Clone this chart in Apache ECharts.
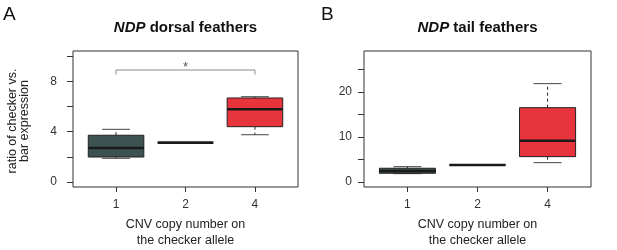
<!DOCTYPE html>
<html>
<head>
<meta charset="utf-8">
<script src="https://cdn.jsdelivr.net/npm/echarts@6/dist/echarts.min.js"></script>
<style>html,body{margin:0;padding:0;background:#fff;}#c{width:617px;height:250px;}</style>
</head>
<body>
<div id="c"></div>
<script>
// ---- data ----
const categories = ['1', '2', '4'];
// [min, q1, median, q3, max] per CNV group
const dorsalStats = [
  [1.88, 1.98, 2.70, 3.71, 4.18],
  [3.12, 3.12, 3.12, 3.12, 3.12],
  [3.75, 4.39, 5.77, 6.67, 6.77]
];
const tailStats = [
  [1.85, 1.93, 2.45, 3.05, 3.40],
  [3.78, 3.78, 3.78, 3.78, 3.78],
  [4.29, 5.63, 9.18, 16.52, 21.86]
];
const dorsalTicks = [0, 2, 4, 6, 8, 10];
const dorsalLabels = [0, 4, 8];
const tailTicks = [0, 5, 10, 15, 20, 25];
const tailLabels = [0, 10, 20];
const sigPair = [1, 3];      // group positions compared
const sigLevel = [8.89];     // bracket height (dorsal)
const sigText = ['*'];

// ---- styles ----
const fills = ['#3c5351', '#3c5351', '#e8353d'];
const FONT = 'Liberation Sans, Arial, sans-serif';

const chart = echarts.init(document.getElementById('c'), null, {renderer: 'canvas'});

function toData(stats) {
  return stats.map((s, i) => [i + 1].concat(s));
}

function boxRender(params, api) {
  const x = api.value(0);
  const lo = api.coord([x, api.value(1)]);
  const q1 = api.coord([x, api.value(2)]);
  const md = api.coord([x, api.value(3)]);
  const q3 = api.coord([x, api.value(4)]);
  const hi = api.coord([x, api.value(5)]);
  const bw = api.size([0.8, 0])[0];
  const cw = bw / 2;
  const cx = lo[0];
  const stroke = '#222';
  const kids = [];
  kids.push({type: 'line', shape: {x1: cx, y1: q3[1], x2: cx, y2: hi[1]}, style: {stroke: stroke, lineWidth: 1, lineDash: [3, 3]}});
  kids.push({type: 'line', shape: {x1: cx, y1: q1[1], x2: cx, y2: lo[1]}, style: {stroke: stroke, lineWidth: 1, lineDash: [3, 3]}});
  kids.push({type: 'line', shape: {x1: cx - cw / 2, y1: hi[1], x2: cx + cw / 2, y2: hi[1]}, style: {stroke: '#444', lineWidth: 1}});
  kids.push({type: 'line', shape: {x1: cx - cw / 2, y1: lo[1], x2: cx + cw / 2, y2: lo[1]}, style: {stroke: '#444', lineWidth: 1}});
  kids.push({type: 'rect', shape: {x: cx - bw / 2, y: q3[1], width: bw, height: q1[1] - q3[1]},
             style: {fill: fills[params.dataIndex], stroke: stroke, lineWidth: 1}});
  kids.push({type: 'line', shape: {x1: cx - bw / 2, y1: md[1], x2: cx + bw / 2, y2: md[1]}, style: {stroke: '#1a1a1a', lineWidth: 2.6}});
  return {type: 'group', children: kids};
}

function sigRender(params, api) {
  const a = api.coord([api.value(0), api.value(2)]);
  const b = api.coord([api.value(1), api.value(2)]);
  const d = 4.5;
  return {type: 'group', children: [
    {type: 'polyline', shape: {points: [[a[0], a[1] + d], [a[0], a[1]], [b[0], b[1]], [b[0], b[1] + d]]},
     style: {stroke: '#8a8a8a', lineWidth: 1, fill: null}},
    {type: 'text', x: (a[0] + b[0]) / 2, y: a[1] - 9.5,
     style: {text: sigText[params.dataIndex], font: '13px ' + FONT, fill: '#555', align: 'center', verticalAlign: 'top'}}
  ]};
}

function xAxisFor(gi) {
  return {
    type: 'value', gridIndex: gi, min: 0.38, max: 3.62,
    axisLine: {show: false, onZero: false},
    splitLine: {show: false},
    axisTick: {show: true, customValues: [1, 2, 3], length: 5, lineStyle: {color: '#333'}},
    axisLabel: {show: true, customValues: [1, 2, 3], margin: 12, color: '#333', fontSize: 12, fontFamily: FONT,
                formatter: v => categories[Math.round(v) - 1]},
    name: 'CNV copy number on\nthe checker allele',
    nameLocation: 'middle', nameGap: 45.5, nameMoveOverlap: false,
    nameTextStyle: {fontSize: 12.5, fontFamily: FONT, color: '#222', lineHeight: 16, verticalAlign: 'middle'}
  };
}

function yAxisFor(gi, min, max, ticks, labels, margin, name) {
  const ax = {
    type: 'value', gridIndex: gi, min: min, max: max,
    axisLine: {show: false, onZero: false},
    splitLine: {show: false},
    axisTick: {show: true, customValues: ticks, length: 6, lineStyle: {color: '#333'}},
    axisLabel: {show: true, customValues: labels, margin: margin, color: '#333', fontSize: 12, fontFamily: FONT}
  };
  if (name) {
    ax.name = name;
    ax.nameLocation = 'middle';
    ax.nameGap = 54;
    ax.nameMoveOverlap = false;
    ax.nameTextStyle = {fontSize: 12.5, fontFamily: FONT, color: '#222', lineHeight: 12, verticalAlign: 'middle', padding: [0, 4, 0, 0]};
  }
  return ax;
}

const titleRich = {
  i: {fontSize: 15, fontWeight: 'bold', fontStyle: 'italic', fontFamily: FONT, fill: '#111', color: '#111'},
  n: {fontSize: 15, fontWeight: 'bold', fontFamily: FONT, fill: '#111', color: '#111'}
};

chart.setOption({
  animation: false,
  backgroundColor: '#fff',
  grid: [
    {left: 73, top: 51, width: 225, height: 136, show: true, borderColor: '#333', borderWidth: 1, backgroundColor: 'transparent',
     containLabel: false, outerBoundsMode: 'none'},
    {left: 364, top: 51, width: 227, height: 136, show: true, borderColor: '#333', borderWidth: 1, backgroundColor: 'transparent',
     containLabel: false, outerBoundsMode: 'none'}
  ],
  xAxis: [xAxisFor(0), xAxisFor(1)],
  yAxis: [
    yAxisFor(0, -0.4, 10.4, dorsalTicks, dorsalLabels, 16, 'ratio of checker vs.\nbar expression'),
    yAxisFor(1, -1.12, 29.12, tailTicks, tailLabels, 12, null)
  ],
  graphic: [
    {type: 'text', left: 3, top: 5, style: {text: 'A', font: '19px ' + FONT, fill: '#111'}},
    {type: 'text', left: 321, top: 5, style: {text: 'B', font: '19px ' + FONT, fill: '#111'}},
    {type: 'text', x: 185.5, y: 20, style: {text: '{i|NDP}{n| dorsal feathers}', rich: titleRich, align: 'center', verticalAlign: 'top'}},
    {type: 'text', x: 477.5, y: 20, style: {text: '{i|NDP}{n| tail feathers}', rich: titleRich, align: 'center', verticalAlign: 'top'}}
  ],
  series: [
    {type: 'custom', xAxisIndex: 0, yAxisIndex: 0, data: toData(dorsalStats), renderItem: boxRender,
     encode: {x: 0, y: [1, 2, 3, 4, 5]}, clip: false, silent: true},
    {type: 'custom', xAxisIndex: 0, yAxisIndex: 0, data: [[sigPair[0], sigPair[1], sigLevel[0]]], renderItem: sigRender,
     encode: {x: [0, 1], y: 2}, clip: false, silent: true},
    {type: 'custom', xAxisIndex: 1, yAxisIndex: 1, data: toData(tailStats), renderItem: boxRender,
     encode: {x: 0, y: [1, 2, 3, 4, 5]}, clip: false, silent: true}
  ]
});
</script>
</body>
</html>
